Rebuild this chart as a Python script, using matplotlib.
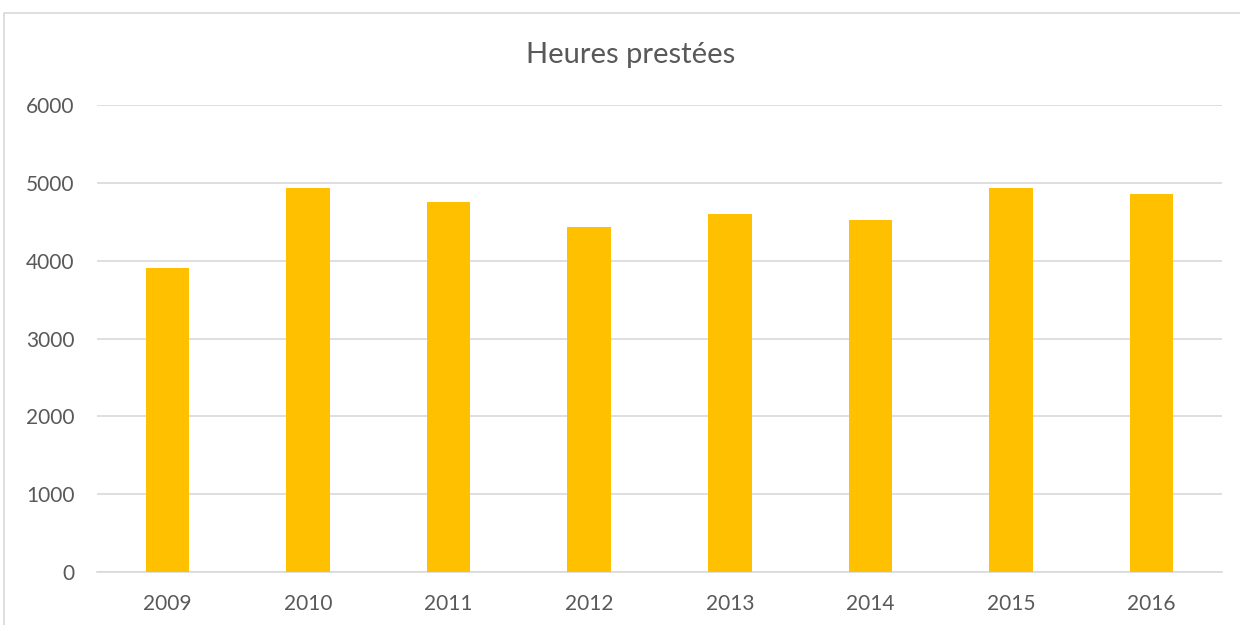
import numpy as np
import matplotlib.pyplot as plt
from matplotlib.patches import Rectangle

years = ['2009', '2010', '2011', '2012', '2013', '2014', '2015', '2016']
hours = [3906, 4936, 4760, 4434, 4605, 4524, 4936, 4854]

plt.rcParams['font.family'] = ['Lato', 'DejaVu Sans']
txt = '#595959'

fig = plt.figure(figsize=(12.4, 6.25), dpi=100)
ax = fig.add_axes([97/1240, 1-572/625, (1222-97)/1240, (572-105)/625])

# chart border
fig.patches.append(Rectangle((3.5/1240, -0.01), 1.0, 1-12.5/625+0.01,
                             transform=fig.transFigure, fill=False,
                             edgecolor='#D9D9D9', lw=1.2))

x = np.arange(len(years))
ax.bar(x, hours, width=0.31, color='#FFC000', zorder=3)

ax.set_xlim(-0.5, len(years)-0.5)
ax.set_ylim(0, 6000)
ax.set_yticks(range(0, 6001, 1000))
ax.set_xticks(x)
ax.set_xticklabels(years)
ax.yaxis.grid(True, color='#D9D9D9', lw=1.2, zorder=0)
for s in ['top', 'right', 'left']:
    ax.spines[s].set_visible(False)
ax.spines['bottom'].set_color('#D9D9D9')
ax.spines['bottom'].set_linewidth(1.2)
ax.tick_params(length=0, labelsize=15, labelcolor=txt)
ax.tick_params(axis='x', pad=16)
ax.tick_params(axis='y', pad=16)

fig.text(631/1240, 1-55/625, 'Heures prestées', ha='center', va='center',
         fontsize=21, color=txt)

fig.savefig('out.png', dpi=100, facecolor='white')
